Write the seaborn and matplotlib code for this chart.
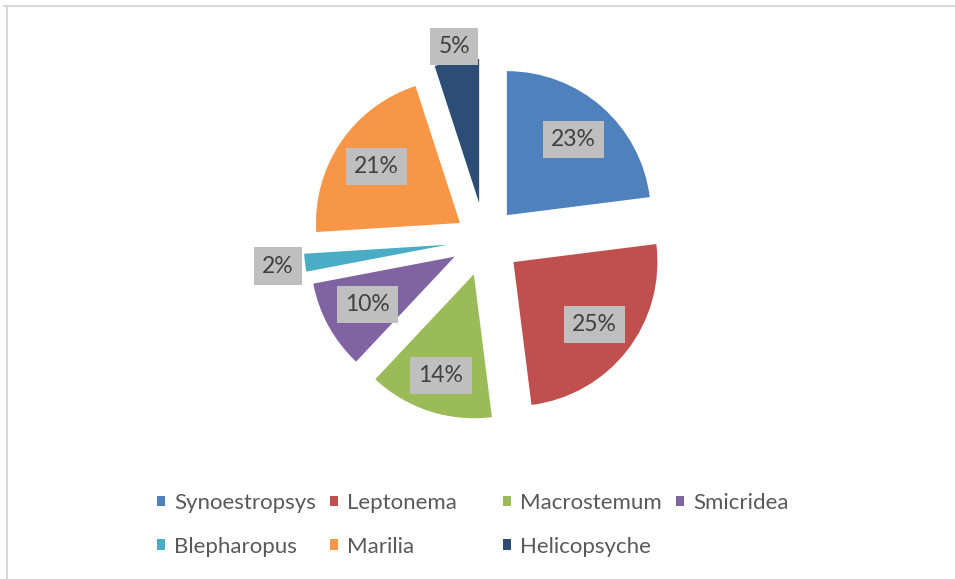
import numpy as np
import matplotlib.pyplot as plt
import seaborn as sns
from matplotlib.lines import Line2D
from matplotlib.patches import Patch

sns.set_theme(style="white")
plt.rcParams['font.family'] = ['Lato', 'DejaVu Sans']

# data
genera = ['Synoestropsys', 'Leptonema', 'Macrostemum', 'Smicridea',
          'Blepharopus', 'Marilia', 'Helicopsyche']
shares = [23, 25, 14, 10, 2, 21, 5]
colors = ['#4F81BD', '#C0504D', '#9BBB59', '#8064A2', '#4BACC6', '#F79646', '#2C4D75']
explode = [0.23, 0.25, 0.25, 0.24, 0.26, 0.21, 0.26]
label_dist = [0.70, 0.71, 0.74, 0.69, 1.19, 0.70, 1.10]

W, H, DPI = 955, 579, 100
fig = plt.figure(figsize=(W / DPI, H / DPI), dpi=DPI)
ax = fig.add_axes([0, 0, 1, 1])

wedges, _ = ax.pie(shares, colors=colors, explode=explode, startangle=90,
                   counterclock=False, wedgeprops=dict(linewidth=0))

# pie centre (485, 240) px from top-left, radius 144 px
cx, cy, R = 485, 240, 144
ax.set_xlim(-cx / R, (W - cx) / R)
ax.set_ylim(-(H - cy) / R, cy / R)
ax.set_aspect('equal')
ax.axis('off')

# percentage labels in grey boxes
for w, v, d in zip(wedges, shares, label_dist):
    mid = np.deg2rad((w.theta1 + w.theta2) / 2)
    x = w.center[0] + d * w.r * np.cos(mid)
    y = w.center[1] + d * w.r * np.sin(mid)
    ax.text(x, y, f"{v}%", ha='center', va='center', fontsize=16.5, color='#404040',
            bbox=dict(boxstyle='square,pad=0.36', facecolor='#BFBFBF', edgecolor='none'))

# legend: equal-width columns like Excel
columns = [[0, 4], [1, 5], [2, 6], [3]]
for i, col in enumerate(columns):
    handles = [Patch(facecolor=colors[k], edgecolor='none') for k in col]
    labels = [genera[k] for k in col]
    fig.legend(handles, labels, loc='upper left',
               bbox_to_anchor=((157 + i * 173) / W, 1 - 493 / H),
               frameon=False, fontsize=16, labelcolor='#595959',
               handlelength=0.36, handleheight=0.36, handletextpad=0.42,
               labelspacing=1.06, borderpad=0, borderaxespad=0)

# chart-area border (top and left edges visible)
fig.add_artist(Line2D([4 / W, 1], [1 - 6 / H, 1 - 6 / H], transform=fig.transFigure,
                      color='#D9D9D9', linewidth=1.5))
fig.add_artist(Line2D([7 / W, 7 / W], [0, 1 - 6 / H], transform=fig.transFigure,
                      color='#D9D9D9', linewidth=1.5))

fig.savefig('out.png', dpi=DPI)
